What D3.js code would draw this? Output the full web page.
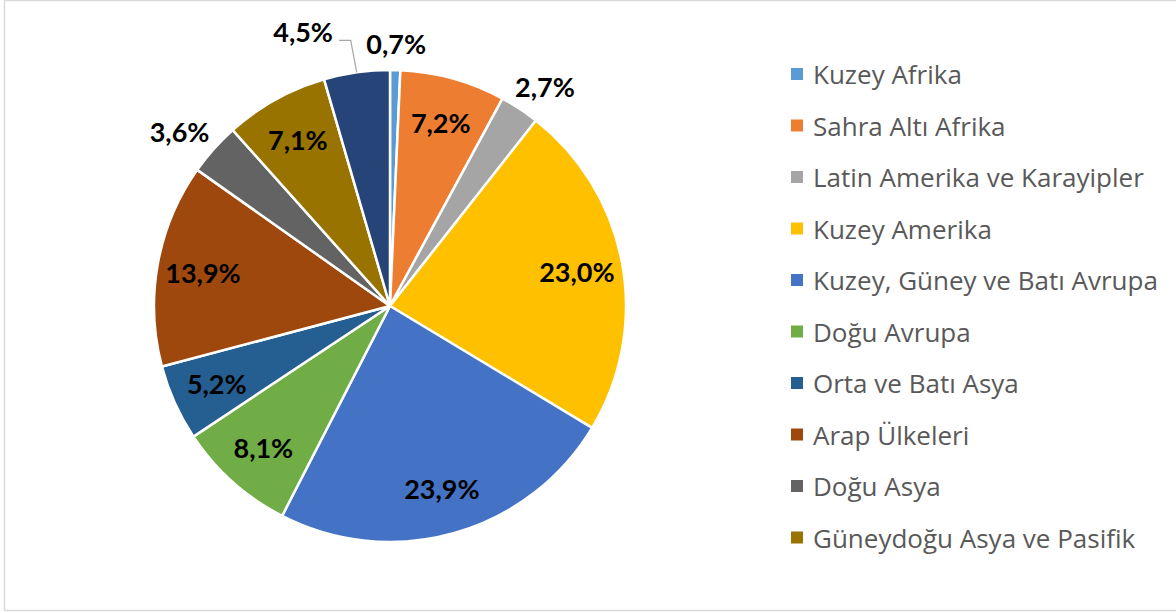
<!DOCTYPE html>
<html>
<head>
<meta charset="utf-8">
<script src="https://cdn.jsdelivr.net/npm/d3@7"></script>
<style>
  html, body { margin: 0; padding: 0; background: #fff; }
  #chart { width: 1176px; height: 613px; }
</style>
</head>
<body>
<div id="chart"></div>
<script>
// Veriler
const regions = [
  "Kuzey Afrika", "Sahra Altı Afrika", "Latin Amerika ve Karayipler", "Kuzey Amerika",
  "Kuzey, Güney ve Batı Avrupa", "Doğu Avrupa", "Orta ve Batı Asya", "Arap Ülkeleri",
  "Doğu Asya", "Güneydoğu Asya ve Pasifik", "Güney Asya"
];
const shares = [0.7, 7.2, 2.7, 23.0, 23.9, 8.1, 5.2, 13.9, 3.6, 7.1, 4.5];
const colors = [
  "#5B9BD5", "#ED7D31", "#A5A5A5", "#FFC000", "#4472C4", "#70AD47",
  "#255E91", "#9E480E", "#636363", "#997300", "#264478"
];
// legend only shows the first 10 entries (last one cut off in the original)
const legendCount = 10;
const outsideLabels = ["Kuzey Afrika", "Latin Amerika ve Karayipler", "Doğu Asya", "Güney Asya"];

function drawChart() {
  const width = 1176, height = 613;
  const cx = 390, cy = 306, radius = 236;

  const svg = d3.select("#chart")
    .append("svg")
    .attr("width", width)
    .attr("height", height);

  // chart frame
  svg.append("rect")
    .attr("x", 4.5)
    .attr("y", 0.5)
    .attr("width", 1180)
    .attr("height", 610)
    .attr("fill", "#fff")
    .attr("stroke", "#d9d9d9")
    .attr("stroke-width", 1.5);

  const dataset = regions.map((r, i) => ({ region: r, value: shares[i], color: colors[i] }));

  const pie = d3.pie()
    .value(d => d.value)
    .sort(null);

  const arc = d3.arc()
    .innerRadius(0)
    .outerRadius(radius);

  const arcs = pie(dataset);
  const g = svg.append("g")
    .attr("transform", `translate(${cx}, ${cy})`);

  g.selectAll("path")
    .data(arcs)
    .enter()
    .append("path")
    .attr("d", arc)
    .attr("fill", d => d.data.color)
    .attr("stroke", "#fff")
    .attr("stroke-width", 2.5)
    .attr("stroke-linejoin", "round");

  const fmt = v => d3.format(".1f")(v).replace(".", ",") + "%";
  const polar = (a, r) => [Math.sin(a) * r, -Math.cos(a) * r];

  const labels = g.selectAll(".label")
    .data(arcs)
    .enter()
    .append("text")
    .attr("class", "label")
    .attr("text-anchor", "middle")
    .attr("dominant-baseline", "central")
    .style("font-family", "Lato, 'Open Sans', sans-serif")
    .style("font-weight", "bold")
    .style("font-size", "27px")
    .style("fill", "#000")
    .text(d => fmt(d.data.value));

  // label positions: inside near the rim, small slices outside with the box just off the edge
  labels.each(function(d) {
    const mid = (d.startAngle + d.endAngle) / 2;
    d.mid = mid;
    if (outsideLabels.includes(d.data.region)) {
      const bb = this.getBBox();
      const p = polar(mid, radius + 16);
      d.pos = [p[0] + Math.sin(mid) * bb.width / 2, p[1] - Math.cos(mid) * 11];
    } else {
      d.pos = polar(mid, 190);
    }
  });

  // Güney Asya label is pushed left to avoid the Kuzey Afrika label, with a leader line
  const pushed = arcs.find(d => d.data.region === "Güney Asya");
  pushed.pos = polar(pushed.mid - 0.165, 288);
  const edge = polar(pushed.mid, radius);
  const elbow = [edge[0] - 6, pushed.pos[1] + 9];
  g.append("polyline")
    .attr("points", [[pushed.pos[0] + 36, elbow[1]], elbow, edge].map(p => p.join(",")).join(" "))
    .attr("fill", "none")
    .attr("stroke", "#a6a6a6")
    .attr("stroke-width", 1.2);

  labels
    .attr("x", d => d.pos[0])
    .attr("y", d => d.pos[1]);

  // legend
  const legend = svg.append("g")
    .attr("transform", "translate(791, 74)");

  const items = legend.selectAll(".legend-item")
    .data(dataset.slice(0, legendCount))
    .enter()
    .append("g")
    .attr("class", "legend-item")
    .attr("transform", (d, i) => `translate(0, ${i * 51.5})`);

  items.append("rect")
    .attr("x", 0)
    .attr("y", -6)
    .attr("width", 12)
    .attr("height", 12)
    .attr("fill", d => d.color);

  items.append("text")
    .attr("x", 22)
    .attr("y", 0)
    .attr("dominant-baseline", "central")
    .style("font-family", "'Open Sans', Lato, sans-serif")
    .style("font-size", "26px")
    .style("fill", "#595959")
    .text(d => d.region);
}

drawChart();
</script>
</body>
</html>
